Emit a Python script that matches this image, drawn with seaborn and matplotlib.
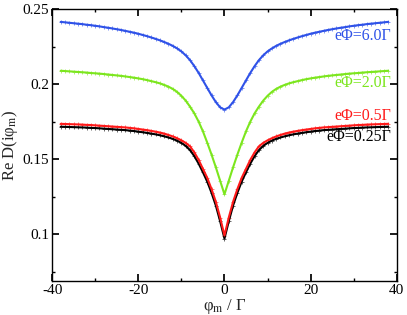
import matplotlib
matplotlib.use("Agg")
import matplotlib.pyplot as plt
from matplotlib.ticker import MultipleLocator, FuncFormatter
import pandas as pd
import seaborn as sns

# ─── Data ────────────────────────────────────────────────────────────────────
phi = list(range(-38, 39))

re_d_phi_6_0 = [
    .2415, .2412, .2409, .2406, .2403, .2400, .2396, .2393, .2389, .2385,
    .2380, .2376, .2371, .2366, .2361, .2355, .2349, .2343, .2336, .2328,
    .2320, .2311, .2302, .2292, .2281, .2269, .2255, .2238, .2218, .2192,
    .2160, .2120, .2075, .2025, .1975, .1925, .1880, .1845, .1830,
    .1845, .1880, .1925, .1975, .2025, .2075, .2120, .2160, .2192, .2218,
    .2238, .2255, .2269, .2281, .2292, .2302, .2311, .2320, .2328, .2336,
    .2343, .2349, .2355, .2361, .2366, .2371, .2376, .2380, .2385, .2389,
    .2393, .2396, .2400, .2403, .2406, .2409, .2412, .2415,
]
re_d_phi_2_0 = [
    .2089, .2087, .2085, .2083, .2081, .2079, .2077, .2074, .2072, .2070,
    .2067, .2064, .2061, .2058, .2055, .2051, .2047, .2043, .2038, .2033,
    .2027, .2020, .2013, .2005, .1995, .1983, .1968, .1948, .1922, .1890,
    .1850, .1805, .1750, .1685, .1610, .1530, .1445, .1355, .1265,
    .1355, .1445, .1530, .1610, .1685, .1750, .1805, .1850, .1890, .1922,
    .1948, .1968, .1983, .1995, .2005, .2013, .2020, .2027, .2033, .2038,
    .2043, .2047, .2051, .2055, .2058, .2061, .2064, .2067, .2070, .2072,
    .2074, .2077, .2079, .2081, .2083, .2085, .2087, .2089,
]
re_d_phi_0_5 = [
    .1735, .1734, .1733, .1732, .1731, .1730, .1728, .1727, .1725, .1723,
    .1721, .1719, .1717, .1715, .1713, .1711, .1708, .1705, .1701, .1697,
    .1693, .1688, .1683, .1677, .1670, .1661, .1651, .1639, .1625, .1608,
    .1585, .1545, .1495, .1435, .1375, .1300, .1215, .1110, .0990,
    .1110, .1215, .1300, .1375, .1435, .1495, .1545, .1585, .1608, .1625,
    .1639, .1651, .1661, .1670, .1677, .1683, .1688, .1693, .1697, .1701,
    .1705, .1708, .1711, .1713, .1715, .1717, .1719, .1721, .1723, .1725,
    .1727, .1728, .1730, .1731, .1732, .1733, .1734, .1735,
]
re_d_phi_0_25 = [
    .1716, .1715, .1714, .1713, .1712, .1711, .1710, .1708, .1707, .1705,
    .1703, .1701, .1699, .1697, .1695, .1693, .1690, .1687, .1683, .1679,
    .1675, .1670, .1665, .1659, .1652, .1644, .1635, .1623, .1608, .1588,
    .1560, .1520, .1470, .1412, .1350, .1275, .1190, .1085, .0970,
    .1085, .1190, .1275, .1350, .1412, .1470, .1520, .1560, .1588, .1608,
    .1623, .1635, .1644, .1652, .1659, .1665, .1670, .1675, .1679, .1683,
    .1687, .1690, .1693, .1695, .1697, .1699, .1701, .1703, .1705, .1707,
    .1708, .1710, .1711, .1712, .1713, .1714, .1715, .1716,
]

series_labels = ["eΦ=0.25Γ", "eΦ=0.5Γ", "eΦ=2.0Γ", "eΦ=6.0Γ"]
series_values = [re_d_phi_0_25, re_d_phi_0_5, re_d_phi_2_0, re_d_phi_6_0]
label_y = [0.1648, 0.1787, 0.2005, 0.2323]

COLORS = {
    "eΦ=0.25Γ": "#000000",
    "eΦ=0.5Γ":  "#ff1a1a",
    "eΦ=2.0Γ":  "#7ce61e",
    "eΦ=6.0Γ":  "#2f52e8",
}

# ─── Style ────────────────────────────────────────────────────────────────────
sns.set_theme(style="ticks")
plt.rcParams.update({
    "font.family": ["Liberation Serif", "DejaVu Serif"],
    "mathtext.fontset": "stix",
    "axes.unicode_minus": False,
    "font.size": 11,
    "axes.linewidth": 1.0,
    "xtick.direction": "in", "ytick.direction": "in",
    "xtick.top": True, "ytick.right": True,
    "xtick.major.size": 5, "ytick.major.size": 5,
    "xtick.minor.size": 2.5, "ytick.minor.size": 2.5,
    "xtick.labelsize": 11, "ytick.labelsize": 11,
    "xtick.color": "black", "ytick.color": "black",
    "axes.edgecolor": "black",
})

fig = plt.figure(figsize=(4.07, 3.15), dpi=100)
ax = fig.add_axes([0.128, 0.108, 0.847, 0.863])

for lab, vals in zip(series_labels, series_values):
    df = pd.DataFrame({"phi": phi, "re_d": vals})
    col = COLORS[lab]
    sns.lineplot(data=df, x="phi", y="re_d", color=col, ax=ax,
                 linewidth=1.5, errorbar=None)
    sns.scatterplot(data=df, x="phi", y="re_d", color=col, ax=ax,
                    marker="+", s=12, linewidth=0.7, alpha=0.6)

for lab, yl in zip(series_labels, label_y):
    ax.text(38.7, yl, lab, color=COLORS[lab], ha="right", va="center",
            fontsize=11.5)

ax.set_xlim(-40, 40)
ax.set_ylim(0.0687, 0.25)
ax.xaxis.set_major_locator(MultipleLocator(20))
ax.xaxis.set_minor_locator(MultipleLocator(10))
ax.yaxis.set_major_locator(MultipleLocator(0.05))
ax.yaxis.set_minor_locator(MultipleLocator(0.025))
ax.yaxis.set_major_formatter(FuncFormatter(lambda v, p: f"{v:g}"))
ax.tick_params(which="both", top=True, right=True, direction="in", pad=2)

ax.set_xlabel("φ$_{\\mathrm{m}}$ / Γ", labelpad=0)
ax.set_ylabel("Re D(iφ$_{\\mathrm{m}}$)", labelpad=2)

fig.savefig("out.png", dpi=100)
plt.close(fig)
